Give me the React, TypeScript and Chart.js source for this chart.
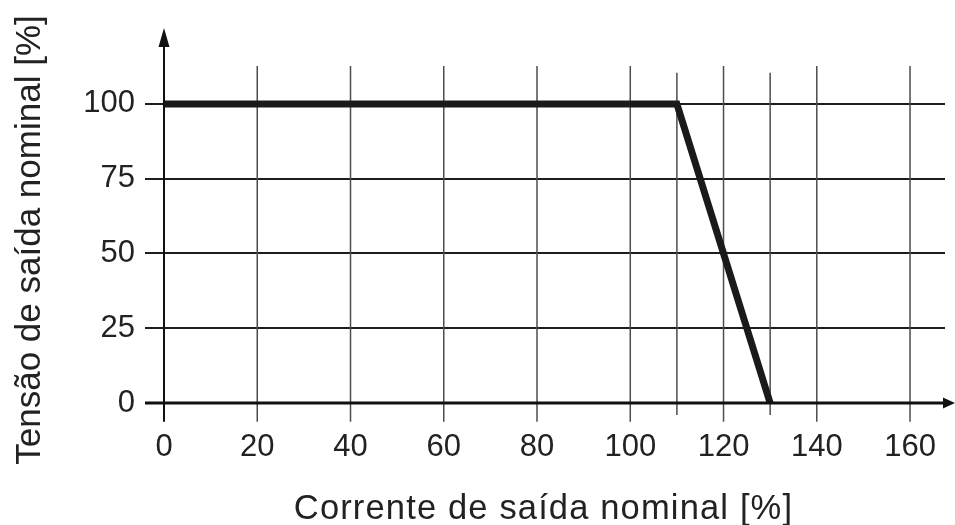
import React, { useEffect, useRef } from "react";
import { Chart, registerables } from "chart.js";

Chart.register(...registerables);

// Data
const currentPct = [0, 110, 130];
const voltagePct = [100, 100, 0];
const xTickValues = [0, 20, 40, 60, 80, 100, 120, 140, 160];
const yTickValues = [0, 25, 50, 75, 100];
const extraGridX = [110, 130];
const xTitle = "Corrente de saída nominal [%]";
const yTitle = "Tensão de saída nominal [%]";

const FONT = "'Liberation Sans', Arial, Helvetica, sans-serif";

const gridPlugin = {
  id: "customGrid",
  beforeDatasetsDraw(chart: any) {
    const { ctx, scales } = chart;
    const x = scales.x;
    const y = scales.y;
    ctx.save();
    ctx.strokeStyle = "#4d4d4d";
    ctx.lineWidth = 1.5;
    xTickValues.forEach((v) => {
      if (v === 0) return;
      const px = x.getPixelForValue(v);
      ctx.beginPath();
      ctx.moveTo(px, y.getPixelForValue(112.7));
      ctx.lineTo(px, y.getPixelForValue(-6.3));
      ctx.stroke();
    });
    extraGridX.forEach((v) => {
      const px = x.getPixelForValue(v);
      ctx.beginPath();
      ctx.moveTo(px, y.getPixelForValue(110.4));
      ctx.lineTo(px, y.getPixelForValue(-4));
      ctx.stroke();
    });
    ctx.restore();
  },
  afterDraw(chart: any) {
    const { ctx, scales, chartArea } = chart;
    const x = scales.x;
    const y = scales.y;
    ctx.save();
    ctx.fillStyle = "#111";
    ctx.strokeStyle = "#111";
    // y axis
    const x0 = x.getPixelForValue(0);
    const yTip = y.getPixelForValue(125.4);
    ctx.lineWidth = 2;
    ctx.beginPath();
    ctx.moveTo(x0, y.getPixelForValue(-6.3));
    ctx.lineTo(x0, yTip + 10);
    ctx.stroke();
    ctx.beginPath();
    ctx.moveTo(x0, yTip);
    ctx.lineTo(x0 - 5.5, yTip + 19);
    ctx.lineTo(x0 + 5.5, yTip + 19);
    ctx.closePath();
    ctx.fill();
    // x axis
    const y0 = y.getPixelForValue(0);
    const xTip = chart.width;
    ctx.lineWidth = 3;
    ctx.beginPath();
    ctx.moveTo(chartArea.left - 19, y0);
    ctx.lineTo(xTip - 8, y0);
    ctx.stroke();
    ctx.beginPath();
    ctx.moveTo(xTip, y0);
    ctx.lineTo(xTip - 12, y0 - 5.5);
    ctx.lineTo(xTip - 12, y0 + 5.5);
    ctx.closePath();
    ctx.fill();
    // x axis title (slightly wider letter spacing as in reference)
    ctx.fillStyle = "#222";
    ctx.font = `34.5px ${FONT}`;
    (ctx as any).letterSpacing = "1.15px";
    ctx.textAlign = "center";
    ctx.textBaseline = "alphabetic";
    ctx.fillText(xTitle, (chartArea.left + chartArea.right) / 2 - 11, chart.height - 6);
    ctx.restore();
  },
};

export default function App() {
  const ref = useRef<HTMLCanvasElement | null>(null);
  useEffect(() => {
    document.body.style.margin = "0";
    if (!ref.current) return;
    const chart = new Chart(ref.current, {
      type: "line",
      data: {
        datasets: [
          {
            data: currentPct.map((c, i) => ({ x: c, y: voltagePct[i] })),
            borderColor: "#1a1a1a",
            borderWidth: 7,
            pointRadius: 0,
            tension: 0,
            fill: false,
            borderJoinStyle: "miter",
            clip: false,
          } as any,
        ],
      },
      options: {
        responsive: false,
        animation: false,
        layout: { padding: { top: 77, right: 10, left: 0, bottom: 0 } },
        plugins: {
          legend: { display: false },
          tooltip: { enabled: false },
        },
        scales: {
          x: {
            type: "linear",
            min: 0,
            max: 167.5,
            afterFit: (s: any) => {
              s.height = 122;
              s.paddingLeft = 0;
              s.paddingRight = 0;
            },
            afterBuildTicks: (s: any) => {
              s.ticks = xTickValues.map((v) => ({ value: v }));
            },
            ticks: {
              color: "#222",
              font: { family: FONT, size: 31 },
              padding: 26,
              maxRotation: 0,
            },
            grid: { display: false, drawTicks: false },
            border: { display: false },
            title: { display: false, text: xTitle },
          },
          y: {
            type: "linear",
            min: 0,
            max: 109,
            afterFit: (s: any) => {
              s.width = 164;
            },
            afterBuildTicks: (s: any) => {
              s.ticks = yTickValues.map((v) => ({ value: v }));
            },
            ticks: {
              color: "#222",
              font: { family: FONT, size: 31 },
              padding: 10,
            },
            grid: {
              color: "#1e1e1e",
              lineWidth: 2,
              tickLength: 19,
              drawTicks: true,
            },
            border: { display: false },
            title: {
              display: true,
              text: yTitle,
              color: "#222",
              font: { family: FONT, size: 35 },
              padding: { top: 9, bottom: 0 },
            },
          },
        },
      },
      plugins: [gridPlugin],
    } as any);
    return () => chart.destroy();
  }, []);
  return <canvas ref={ref} width={955} height={525} />;
}
